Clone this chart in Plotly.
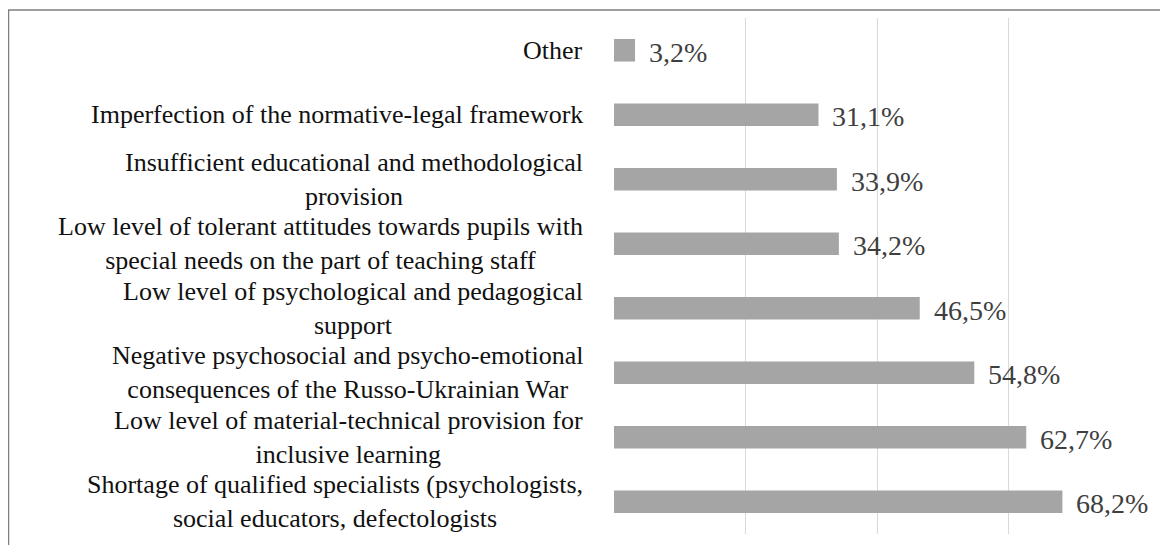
import plotly.graph_objects as go

categories = [
    "Other",
    "Imperfection of the normative-legal framework",
    "Insufficient educational and methodological<br>provision",
    "Low level of tolerant attitudes towards pupils with<br>special needs on the part of teaching staff",
    "Low level of psychological and pedagogical<br>support",
    "Negative psychosocial and psycho-emotional<br>consequences of the Russo-Ukrainian War",
    "Low level of material-technical provision for<br>inclusive learning",
    "Shortage of qualified specialists (psychologists,<br>social educators, defectologists",
]
values = [3.2, 31.1, 33.9, 34.2, 46.5, 54.8, 62.7, 68.2]
value_labels = ["3,2%", "31,1%", "33,9%", "34,2%", "46,5%", "54,8%", "62,7%", "68,2%"]
x_ticks = [0, 20, 40, 60, 80]

FONT = "Liberation Serif"

fig = go.Figure()
fig.add_trace(go.Bar(
    x=values,
    y=list(range(len(categories))),
    orientation="h",
    width=0.35,
    marker=dict(color="#a5a5a5", line=dict(width=0)),
    hoverinfo="skip",
))

annotations = []
for i, (cat, v, lab) in enumerate(zip(categories, values, value_labels)):
    annotations.append(dict(
        x=0, xref="paper", y=i, yref="y", text=cat, showarrow=False,
        xanchor="right", yanchor="middle", align="center", xshift=-29,
        font=dict(family=FONT, size=26, color="#111111"),
    ))
    annotations.append(dict(
        x=v, xref="x", y=i, yref="y", text=lab, showarrow=False,
        xanchor="left", yanchor="middle", xshift=12, yshift=-2,
        font=dict(family=FONT, size=28, color="#3f3f3f"),
    ))

# page has an 8px body margin; figure origin sits at page (8, 8)
W, H = 1160, 537
L, R, T, B = 606, 28, 10, 11
pw, ph = W - L - R, H - T - B
fx0 = (0.5 - L) / pw
fx1 = (W + 20 - L) / pw
fy1 = (H - B - 2) / ph
fy0 = -30 / ph

fig.update_layout(
    width=W, height=H,
    margin=dict(l=L, r=R, t=T, b=B),
    paper_bgcolor="white", plot_bgcolor="white",
    font=dict(family=FONT),
    showlegend=False,
    annotations=annotations,
    shapes=[dict(type="rect", xref="paper", yref="paper",
                 x0=fx0, x1=fx1, y0=fy0, y1=fy1,
                 line=dict(color="#7f7f7f", width=1.5), layer="below")],
    xaxis=dict(range=[0, 80], tickvals=x_ticks, showticklabels=False,
               showgrid=True, gridcolor="#d9d9d9", gridwidth=1,
               zeroline=False, showline=False, fixedrange=True),
    yaxis=dict(range=[len(categories) - 0.5, -0.5], showticklabels=False,
               showgrid=False, zeroline=False, showline=False, fixedrange=True),
)

fig.write_html("out.html")
